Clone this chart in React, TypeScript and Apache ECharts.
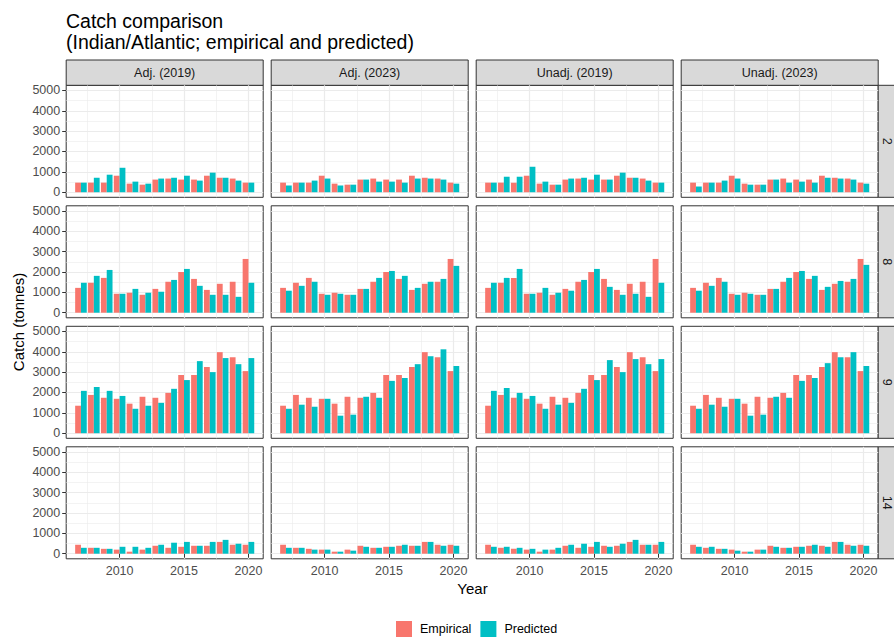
import { useEffect, useRef } from 'react';
import * as echarts from 'echarts';

// facets
const models = ['Adj. (2019)', 'Adj. (2023)', 'Unadj. (2019)', 'Unadj. (2023)'];
const regions = ['2', '8', '9', '14'];
const years = [2007, 2008, 2009, 2010, 2011, 2012, 2013, 2014, 2015, 2016, 2017, 2018, 2019, 2020];

const xMajor = [2010, 2015, 2020];
const xMinor = [2007.5, 2012.5, 2017.5];
const yMajor = [0, 1000, 2000, 3000, 4000, 5000];
const yMinor = [500, 1500, 2500, 3500, 4500];

// empirical catch (same for every model)
const empR2 = [470, 470, 470, 810, 420, 370, 620, 670, 620, 620, 810, 710, 670, 470];
const empR8 = [1220, 1470, 1710, 930, 980, 880, 1170, 1520, 2000, 1660, 1120, 1420, 1520, 2640];
const empR9 = [1350, 1880, 1740, 1690, 1450, 1790, 1740, 1980, 2860, 2860, 3250, 3980, 3730, 3050];
const empR14 = [440, 290, 240, 200, 100, 200, 390, 290, 340, 390, 390, 580, 440, 440];

// predicted catch
const adj19R2 = [470, 710, 860, 1200, 520, 420, 670, 710, 810, 570, 960, 710, 570, 470];
const adj19R8 = [1470, 1810, 2100, 930, 1170, 980, 1030, 1610, 2150, 1320, 880, 880, 780, 1470];
const adj19R9 = [2080, 2270, 2080, 1830, 1200, 1350, 1490, 2180, 2610, 3540, 3000, 3690, 3390, 3690];
const adj19R14 = [290, 290, 240, 340, 340, 290, 440, 540, 580, 390, 580, 680, 490, 580];

const adj23R2 = [330, 470, 570, 670, 330, 370, 620, 520, 520, 470, 670, 670, 620, 420];
const adj23R8 = [1080, 1320, 1520, 880, 930, 880, 1170, 1710, 2050, 1810, 1220, 1520, 1660, 2300];
const adj23R9 = [1200, 1400, 1300, 1690, 860, 910, 1790, 1740, 2570, 2710, 3390, 3780, 4120, 3300];
const adj23R14 = [290, 290, 200, 200, 100, 150, 340, 290, 340, 440, 390, 580, 390, 390];

const unadj19R2 = [470, 760, 760, 1250, 520, 370, 670, 710, 860, 620, 960, 710, 570, 470];
const unadj19R8 = [1470, 1710, 2150, 930, 1220, 980, 1080, 1610, 2150, 1270, 880, 930, 780, 1470];
const unadj19R9 = [2080, 2220, 1980, 1830, 1200, 1400, 1490, 2180, 2610, 3590, 3000, 3640, 3390, 3640];
const unadj19R14 = [340, 340, 290, 240, 200, 290, 440, 490, 580, 340, 490, 680, 440, 580];

const unadj23R2 = [280, 470, 570, 670, 370, 370, 620, 470, 520, 470, 710, 670, 620, 420];
const unadj23R8 = [1080, 1320, 1520, 880, 930, 880, 1170, 1710, 2050, 1810, 1270, 1560, 1660, 2350];
const unadj23R9 = [1200, 1400, 1300, 1690, 860, 910, 1790, 1740, 2570, 2710, 3440, 3730, 3980, 3300];
const unadj23R14 = [340, 340, 240, 150, 100, 200, 340, 290, 340, 440, 340, 580, 390, 390];

const empirical = [empR2, empR8, empR9, empR14];
const predicted = [
  [adj19R2, adj19R8, adj19R9, adj19R14],
  [adj23R2, adj23R8, adj23R9, adj23R14],
  [unadj19R2, unadj19R8, unadj19R9, unadj19R14],
  [unadj23R2, unadj23R8, unadj23R9, unadj23R14],
];

const FONT = '"Liberation Sans", Arial, sans-serif';
const colLeft = [66.2, 271.2, 476.2, 681.2];
const rowTop = [85.3, 205.8, 326.3, 446.8];
const panelW = 197;
const panelH = 112;
const plain = (v: number) => String(v);

function buildOption() {
  const grid: any[] = [];
  const xAxis: any[] = [];
  const yAxis: any[] = [];
  const series: any[] = [];
  const graphic: any[] = [];

  for (let r = 0; r < regions.length; r++) {
    for (let c = 0; c < models.length; c++) {
      const g = grid.length;
      const bottomRow = r === regions.length - 1;
      const leftCol = c === 0;
      grid.push({
        left: colLeft[c], top: rowTop[r], width: panelW, height: panelH,
        show: true, backgroundColor: '#fff', borderColor: '#333333', borderWidth: 1,
        containLabel: false,
      });
      // minor x gridlines
      xAxis.push({
        type: 'value', gridIndex: g, position: 'top', min: 2005.855, max: 2021.145,
        axisLine: { show: false },
        axisTick: { show: false, customValues: xMinor },
        axisLabel: { show: false, customValues: xMinor },
        splitLine: { show: true, lineStyle: { color: '#EBEBEB', width: 0.6 } },
      });
      // major x axis
      xAxis.push({
        type: 'value', gridIndex: g, position: 'bottom', min: 2005.855, max: 2021.145,
        axisLine: { show: false },
        axisTick: { show: bottomRow, customValues: xMajor, length: 4, lineStyle: { color: '#333333' } },
        axisLabel: {
          show: bottomRow, customValues: xMajor, formatter: plain,
          color: '#4D4D4D', fontSize: 12.5, fontFamily: FONT, margin: 6,
        },
        splitLine: { show: true, lineStyle: { color: '#EBEBEB', width: 1.2 } },
      });
      yAxis.push({
        type: 'value', gridIndex: g, position: 'right', min: -250, max: 5250,
        axisLine: { show: false },
        axisTick: { show: false, customValues: yMinor },
        axisLabel: { show: false, customValues: yMinor },
        splitLine: { show: true, lineStyle: { color: '#EBEBEB', width: 0.6 } },
      });
      yAxis.push({
        type: 'value', gridIndex: g, position: 'left', min: -250, max: 5250,
        axisLine: { show: false },
        axisTick: { show: leftCol, customValues: yMajor, length: 4, lineStyle: { color: '#333333' } },
        axisLabel: {
          show: leftCol, customValues: yMajor, formatter: plain,
          color: '#4D4D4D', fontSize: 12.5, fontFamily: FONT, margin: 6,
        },
        splitLine: { show: true, lineStyle: { color: '#EBEBEB', width: 1.2 } },
      });
      series.push({
        name: 'Empirical', type: 'bar', xAxisIndex: 2 * g + 1, yAxisIndex: 2 * g + 1,
        data: years.map((y, i) => [y, empirical[r][i]]),
        itemStyle: { color: '#F8766D' }, barGap: '0%', barCategoryGap: '10%',
      });
      series.push({
        name: 'Predicted', type: 'bar', xAxisIndex: 2 * g + 1, yAxisIndex: 2 * g + 1,
        data: years.map((y, i) => [y, predicted[c][r][i]]),
        itemStyle: { color: '#00BFC4' }, barGap: '0%', barCategoryGap: '10%',
      });
    }
  }

  // column strips
  models.forEach((m, c) => {
    graphic.push({
      type: 'rect', shape: { x: colLeft[c], y: 60, width: panelW, height: 25.3 },
      style: { fill: '#D9D9D9', stroke: '#333333', lineWidth: 1 },
    });
    graphic.push({
      type: 'text', x: colLeft[c] + panelW / 2, y: 73,
      style: { text: m, fill: '#1A1A1A', font: `12.5px ${FONT}`, textAlign: 'center', textVerticalAlign: 'middle' },
    });
  });
  // row strips
  regions.forEach((reg, r) => {
    graphic.push({
      type: 'rect', shape: { x: 878.2, y: rowTop[r], width: 22, height: panelH },
      style: { fill: '#D9D9D9', stroke: '#333333', lineWidth: 1 },
    });
    graphic.push({
      type: 'text', x: 886.5, y: rowTop[r] + panelH / 2, rotation: -Math.PI / 2,
      style: { text: reg, fill: '#1A1A1A', font: `12.5px ${FONT}`, textAlign: 'center', textVerticalAlign: 'middle' },
    });
  });
  graphic.push({
    type: 'text', x: 472.5, y: 588.5,
    style: { text: 'Year', fill: '#000', font: `15px ${FONT}`, textAlign: 'center', textVerticalAlign: 'middle' },
  });
  graphic.push({
    type: 'text', x: 18, y: 322, rotation: Math.PI / 2,
    style: { text: 'Catch (tonnes)', fill: '#000', font: `15px ${FONT}`, textAlign: 'center', textVerticalAlign: 'middle' },
  });

  return {
    animation: false,
    backgroundColor: '#fff',
    textStyle: { fontFamily: FONT },
    title: {
      text: 'Catch comparison\n(Indian/Atlantic; empirical and predicted)',
      left: 66, top: 10, padding: 0,
      textStyle: { fontSize: 19.5, fontWeight: 'normal', color: '#000', lineHeight: 21.5, fontFamily: FONT },
    },
    legend: {
      data: ['Empirical', 'Predicted'], left: 396, top: 621, padding: 0,
      icon: 'rect', itemWidth: 16, itemHeight: 16, itemGap: 9,
      textStyle: { fontSize: 12.5, color: '#000', fontFamily: FONT, padding: [0, 0, 0, 3] },
    },
    grid, xAxis, yAxis, series, graphic,
  };
}

export default function App() {
  const chartRef = useRef<HTMLDivElement | null>(null);

  useEffect(() => {
    if (!chartRef.current) return;
    const chart = echarts.init(chartRef.current, null, { renderer: 'svg' });
    chart.setOption(buildOption());
    return () => {
      chart.dispose();
    };
  }, []);

  return <div ref={chartRef} style={{ position: 'fixed', left: 0, top: 0, width: 894, height: 637 }} />;
}
